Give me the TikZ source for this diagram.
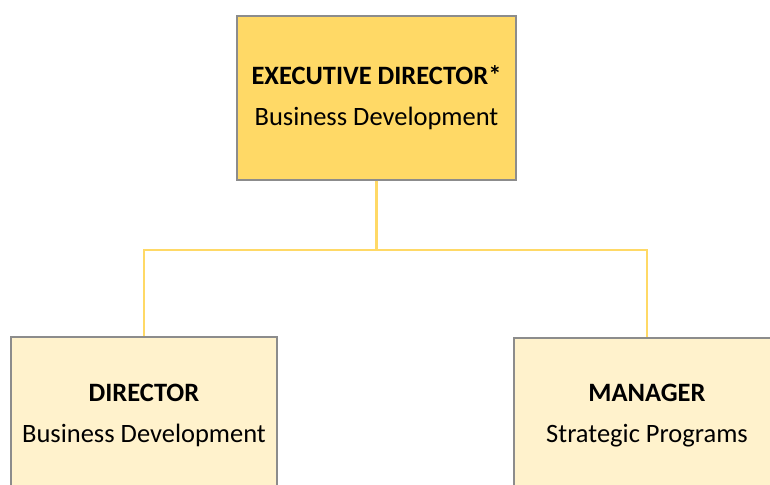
\documentclass[tikz,border=0pt]{standalone}
\usepackage{fontspec}
\setmainfont{Carlito}
\usetikzlibrary{positioning}

\definecolor{goldbox}{HTML}{FFD966}
\definecolor{paleGold}{HTML}{FFF2CC}
\definecolor{boxEdge}{HTML}{8C8C8C}
\definecolor{linkGold}{HTML}{FFD966}

\begin{document}
\begin{tikzpicture}[
            x = 1pt, y = -1pt, % pixel-like units, y downwards
            line join = miter,
            semithick % line style
        ]

        \tikzstyle{every node}=[
            font = \fontsize{26.5}{41}\selectfont,
            align = center,
            inner sep = 0pt
        ]
        \tikzstyle{topbox}=[
            draw = boxEdge,
            line width = 1.3pt,
            fill = goldbox,
            minimum width = 279pt,
            minimum height = 164pt
        ]
        \tikzstyle{subbox}=[
            topbox,
            fill = paleGold,
            minimum width = 266pt,
            minimum height = 156pt
        ]
        \tikzstyle{link}=[
            draw = linkGold,
            line width = 2.6pt
        ]

        \clip (0,0) rectangle (770,484);

        \node[topbox] (exec) at (376.5,98) {\textbf{EXECUTIVE DIRECTOR*}\\Business Development};
        \node[subbox] (dir) at (144,415) {\textbf{DIRECTOR}\\Business Development};
        \node[subbox] (mgr) at (647,416) {\textbf{MANAGER}\\Strategic Programs};

        \coordinate (bus) at (376.5,250);

        \draw[link] (exec.south) -- (bus);
        \draw[link] (bus) -| (dir.north);
        \draw[link] (bus) -| (mgr.north);

    \end{tikzpicture}
\end{document}
